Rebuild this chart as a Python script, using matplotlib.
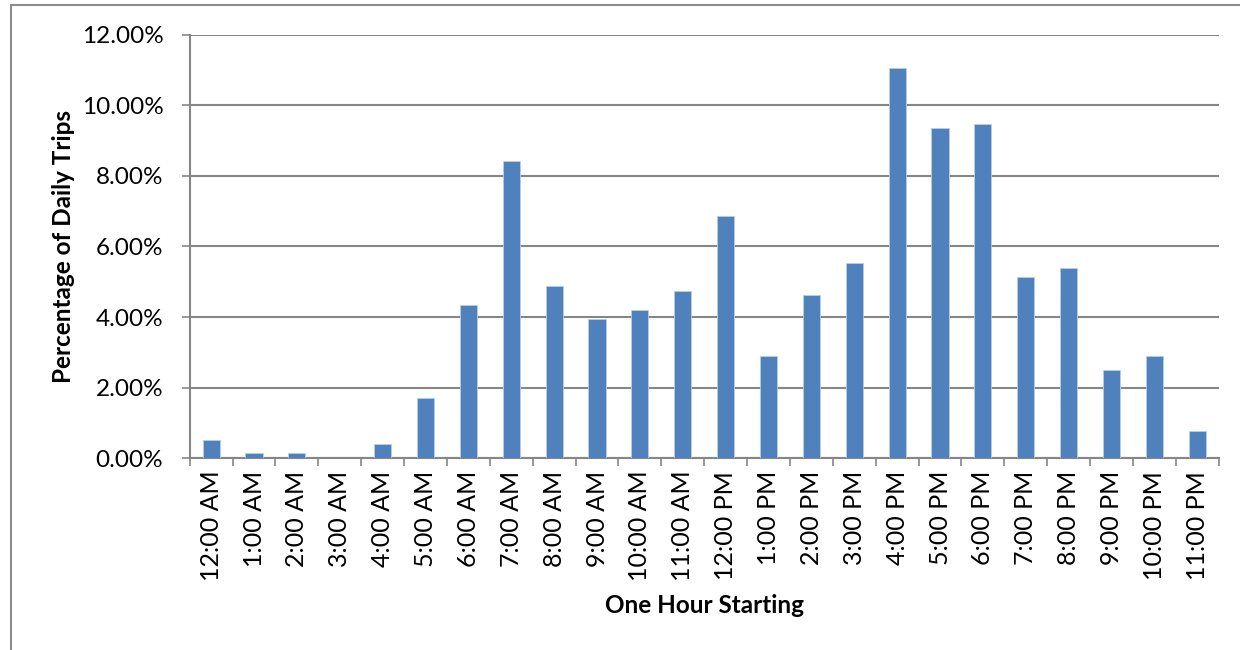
import matplotlib
matplotlib.use("Agg")
import matplotlib.pyplot as plt
import numpy as np
from matplotlib.ticker import FuncFormatter, FixedLocator

plt.rcParams['font.family'] = ['Lato', 'DejaVu Sans']

# share of daily trips (%) by starting hour
hours = ['12:00 AM', '1:00 AM', '2:00 AM', '3:00 AM', '4:00 AM', '5:00 AM',
         '6:00 AM', '7:00 AM', '8:00 AM', '9:00 AM', '10:00 AM', '11:00 AM',
         '12:00 PM', '1:00 PM', '2:00 PM', '3:00 PM', '4:00 PM', '5:00 PM',
         '6:00 PM', '7:00 PM', '8:00 PM', '9:00 PM', '10:00 PM', '11:00 PM']
trip_share = [0.52, 0.14, 0.14, 0.00, 0.40, 1.71,
              4.34, 8.42, 4.88, 3.94, 4.21, 4.74,
              6.85, 2.90, 4.61, 5.52, 11.05, 9.34,
              9.46, 5.12, 5.39, 2.49, 2.90, 0.78]
y_ticks = [0, 2, 4, 6, 8, 10, 12]

bar_color = '#4F81BD'
grid_color = '#868686'

fig = plt.figure(figsize=(12.4, 6.5), dpi=100)
ax = fig.add_axes([189.7 / 1240, 1 - 458.3 / 650, 1029 / 1240, (458.3 - 34.5) / 650])

# chart border (left/top edges only show, the rest runs off the image)
fig.patches.append(plt.Rectangle((11 / 1240, -0.1), 1.2, 1.1 - 5 / 650,
                                 transform=fig.transFigure, fill=False,
                                 edgecolor='#8c8c8c', linewidth=1.5))

x = np.arange(len(hours))
ax.bar(x, trip_share, width=0.4, color=bar_color, edgecolor='#b9cde5',
       linewidth=0.6, zorder=3)

ax.set_xlim(-0.5, len(hours) - 0.5)
ax.set_ylim(0, 12)
ax.set_yticks(y_ticks)
ax.yaxis.set_major_formatter(FuncFormatter(lambda v, p: '%.2f%%' % v))
ax.yaxis.grid(True, color=grid_color, linewidth=1.5, zorder=0)

ax.set_xticks(x)
ax.set_xticklabels(hours, rotation=90)
ax.xaxis.set_minor_locator(FixedLocator(np.arange(-0.5, len(hours), 1.0)))
ax.tick_params(axis='x', which='major', length=0, pad=9, labelsize=18)
ax.tick_params(axis='x', which='minor', length=6, width=1.2, color=grid_color)
ax.tick_params(axis='y', length=6, width=1.2, color=grid_color, labelsize=17.5, pad=13)

for side in ('top', 'right'):
    ax.spines[side].set_visible(False)
for side in ('left', 'bottom'):
    ax.spines[side].set_color(grid_color)
    ax.spines[side].set_linewidth(1.5)

ax.set_ylabel('Percentage of Daily Trips', fontsize=17.5, fontweight='bold', labelpad=5)
ax.set_xlabel('One Hour Starting', fontsize=17.5, fontweight='bold', labelpad=9)

fig.savefig('out.png', dpi=100)
